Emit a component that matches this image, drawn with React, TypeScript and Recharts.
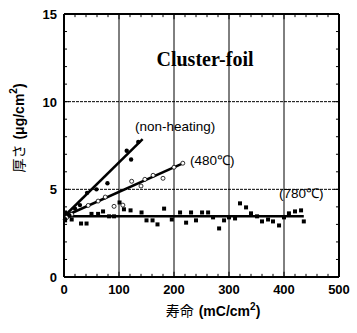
import {
  ScatterChart,
  Scatter,
  XAxis,
  YAxis,
  ReferenceLine,
  Label,
} from 'recharts';

// non-heating (filled dots)
const nonHeating = [
  { x: 2, y: 3.3 },
  { x: 10, y: 3.5 },
  { x: 20, y: 3.9 },
  { x: 29, y: 4.1 },
  { x: 42, y: 4.8 },
  { x: 59, y: 5.0 },
  { x: 79, y: 5.35 },
  { x: 114, y: 7.2 },
  { x: 122, y: 6.7 },
  { x: 135, y: 7.7 },
];

// 480℃ (open circles)
const heated480 = [
  { x: 5, y: 3.4 },
  { x: 14, y: 3.57 },
  { x: 44, y: 4.08 },
  { x: 62, y: 4.33 },
  { x: 75, y: 4.56 },
  { x: 91, y: 4.03 },
  { x: 107, y: 4.1 },
  { x: 123, y: 5.46 },
  { x: 140, y: 5.19 },
  { x: 147, y: 5.57 },
  { x: 162, y: 5.8 },
  { x: 180, y: 5.63 },
  { x: 200, y: 6.26 },
  { x: 216, y: 6.49 },
];

// 780℃ (filled squares)
const heated780 = [
  { x: 2, y: 3.23 }, { x: 2, y: 3.68 }, { x: 14, y: 3.28 }, { x: 31, y: 3.05 },
  { x: 41, y: 3.05 }, { x: 50, y: 3.6 }, { x: 62, y: 3.6 }, { x: 71, y: 3.74 },
  { x: 82, y: 3.46 }, { x: 91, y: 3.46 }, { x: 101, y: 4.25 }, { x: 109, y: 3.86 },
  { x: 121, y: 3.8 }, { x: 141, y: 3.68 }, { x: 150, y: 3.23 }, { x: 161, y: 3.23 },
  { x: 170, y: 3.0 }, { x: 182, y: 3.9 }, { x: 196, y: 3.28 }, { x: 211, y: 3.68 },
  { x: 222, y: 3.1 }, { x: 231, y: 3.68 }, { x: 240, y: 3.23 }, { x: 251, y: 3.68 },
  { x: 262, y: 3.68 }, { x: 271, y: 3.4 }, { x: 282, y: 2.77 }, { x: 291, y: 3.23 },
  { x: 300, y: 3.4 }, { x: 311, y: 3.34 }, { x: 320, y: 4.2 }, { x: 331, y: 3.97 },
  { x: 340, y: 3.63 }, { x: 351, y: 3.46 }, { x: 360, y: 3.17 }, { x: 371, y: 3.28 },
  { x: 380, y: 3.17 }, { x: 391, y: 2.94 }, { x: 400, y: 3.4 }, { x: 409, y: 3.63 },
  { x: 420, y: 3.74 }, { x: 431, y: 3.8 }, { x: 436, y: 3.17 },
];

// fitted lines (end points)
const fitNonHeating = [{ x: 0, y: 3.45 }, { x: 143, y: 7.86 }];
const fit480 = [{ x: 0, y: 3.45 }, { x: 217, y: 6.5 }];
const fit780 = [{ x: 0, y: 3.47 }, { x: 436, y: 3.47 }];

const xTicks = Array.from({ length: 26 }, (_, i) => i * 20);
const yTicks = Array.from({ length: 16 }, (_, i) => i);
const xLabels = [0, 100, 200, 300, 400, 500];
const yLabels = [0, 5, 10, 15];
const xGrid = [100, 200, 300, 400];
const yGrid = [5, 10];

const sans = 'Liberation Sans, Arial, sans-serif';

// inward tick marks, in data units (x ticks measured in y, y ticks in x)
const tickMarks = [
  ...xTicks.map((v) => ({ id: `b${v}`, seg: [{ x: v, y: 0 }, { x: v, y: v % 100 === 0 ? 0.3 : 0.18 }] })),
  ...xTicks.map((v) => ({ id: `t${v}`, seg: [{ x: v, y: 15 }, { x: v, y: v % 100 === 0 ? 14.7 : 14.82 }] })),
  ...yTicks.map((v) => ({ id: `l${v}`, seg: [{ x: 0, y: v }, { x: v % 5 === 0 ? 9 : 5.5, y: v }] })),
  ...yTicks.map((v) => ({ id: `r${v}`, seg: [{ x: 500, y: v }, { x: v % 5 === 0 ? 491 : 494.5, y: v }] })),
];

function BottomTick({ x, y, payload }: any) {
  return (
    <text x={x} y={y + 17} textAnchor="middle" fontFamily={sans} fontWeight="bold" fontSize={13} fill="#000">
      {payload.value}
    </text>
  );
}

function LeftTick({ x, y, payload }: any) {
  return (
    <text x={x - 7} y={y + 5} textAnchor="end" fontFamily={sans} fontWeight="bold" fontSize={13} fill="#000">
      {payload.value}
    </text>
  );
}

const Dot = (props: any) => <circle cx={props.cx} cy={props.cy} r={2.2} fill="#000" />;
const OpenDot = (props: any) => (
  <circle cx={props.cx} cy={props.cy} r={2} fill="#fff" stroke="#000" strokeWidth={0.8} />
);
const Square = (props: any) => (
  <rect x={props.cx - 2} y={props.cy - 2} width={4} height={4} fill="#000" />
);
const NoShape = () => null;

const fitLine = { stroke: '#000', strokeWidth: 2.5 };

function Annotations() {
  return (
    <g fill="#000">
      <text x={213} y={316} textAnchor="middle" fontSize={14}>
        <tspan fontFamily="Noto Sans CJK JP">寿命</tspan>
        <tspan fontFamily={sans} fontWeight="bold" dx={5}>(mC/cm</tspan>
        <tspan fontFamily={sans} fontWeight="bold" fontSize={10} dy={-6}>2</tspan>
        <tspan fontFamily={sans} fontWeight="bold" dy={6}>)</tspan>
      </text>
      <text
        x={20}
        y={128}
        transform="rotate(-90 20 128)"
        textAnchor="middle"
        dominantBaseline="middle"
        fontSize={14}
      >
        <tspan fontFamily="Noto Sans CJK JP">厚さ</tspan>
        <tspan fontFamily={sans} fontWeight="bold" dx={5}>(μg/cm</tspan>
        <tspan fontFamily={sans} fontWeight="bold" fontSize={10} dy={-6}>2</tspan>
        <tspan fontFamily={sans} fontWeight="bold" dy={6}>)</tspan>
      </text>
      <text x={205} y={66} textAnchor="middle" fontFamily="Liberation Serif, Times New Roman, serif" fontWeight="bold" fontSize={20}>
        Cluster-foil
      </text>
      <text x={135} y={131} fontFamily={sans} fontSize={13.5}>(non-heating)</text>
      <text x={190} y={165} fontFamily={sans} fontSize={13.5}>(480℃)</text>
      <text x={279} y={198} fontFamily={sans} fontSize={13.5}>(780℃)</text>
    </g>
  );
}

export default function App() {
  return (
    <div style={{ position: 'absolute', left: 0, top: 0, background: '#fff' }}>
      <ScatterChart width={357} height={333} margin={{ top: 14, right: 18, bottom: 0, left: 0 }}>
        <XAxis
          type="number"
          dataKey="x"
          domain={[0, 500]}
          ticks={xLabels}
          interval={0}
          height={56}
          tickSize={0}
          tickMargin={0}
          tickLine={false}
          tick={<BottomTick />}
          axisLine={{ stroke: '#000', strokeWidth: 2 }}
        >
          <Label content={() => <Annotations />} />
        </XAxis>
        <YAxis
          type="number"
          dataKey="y"
          domain={[0, 15]}
          ticks={yLabels}
          interval={0}
          width={64}
          tickSize={0}
          tickMargin={0}
          tickLine={false}
          tick={<LeftTick />}
          axisLine={{ stroke: '#000', strokeWidth: 2 }}
        />

        {xGrid.map((v) => (
          <ReferenceLine key={`gx${v}`} x={v} stroke="#000" strokeWidth={1} />
        ))}
        {yGrid.map((v) => (
          <ReferenceLine key={`gy${v}`} y={v} stroke="#000" strokeWidth={1} strokeDasharray="3 1" />
        ))}
        {/* top and right edges of the frame */}
        <ReferenceLine x={500} stroke="#000" strokeWidth={2} ifOverflow="extendDomain" />
        <ReferenceLine y={15} stroke="#000" strokeWidth={2} ifOverflow="extendDomain" />
        {tickMarks.map((t) => (
          <ReferenceLine key={t.id} segment={t.seg} stroke="#000" strokeWidth={1} ifOverflow="visible" />
        ))}

        <Scatter data={fitNonHeating} line={fitLine} shape={NoShape} isAnimationActive={false} />
        <Scatter data={fit480} line={fitLine} shape={NoShape} isAnimationActive={false} />
        <Scatter data={fit780} line={fitLine} shape={NoShape} isAnimationActive={false} />

        <Scatter data={heated780} shape={Square} isAnimationActive={false} />
        <Scatter data={heated480} shape={OpenDot} isAnimationActive={false} />
        <Scatter data={nonHeating} shape={Dot} isAnimationActive={false} />
      </ScatterChart>
    </div>
  );
}
